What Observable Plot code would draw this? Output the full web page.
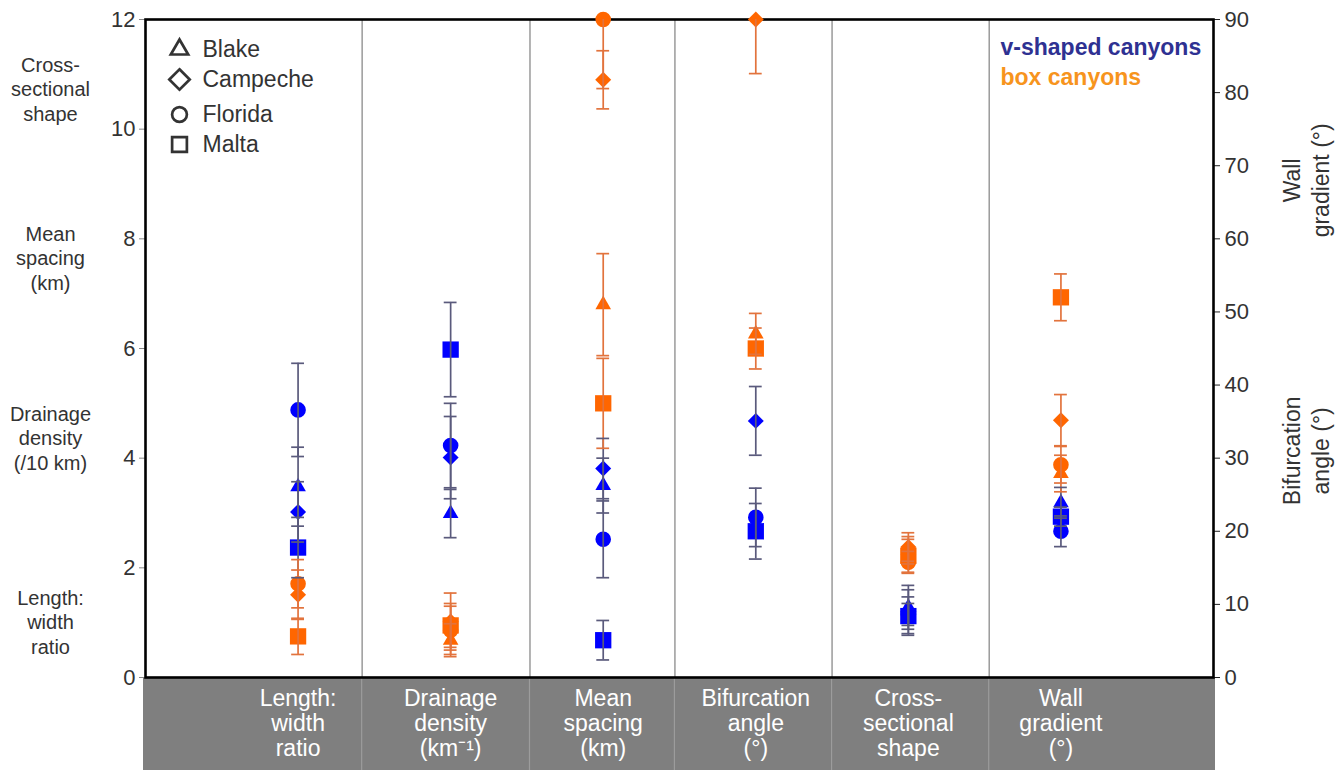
<!DOCTYPE html>
<html>
<head>
<meta charset="utf-8">
<script src="https://cdn.jsdelivr.net/npm/d3@7"></script>
<script src="https://cdn.jsdelivr.net/npm/@observablehq/plot@0.6"></script>
<style>
  body { margin: 0; background: #fff; }
  #chart { width: 1340px; height: 770px; }
</style>
</head>
<body>
<div id="chart"></div>
<script>
// ---------- data ----------
const categories = ["Length:\nwidth\nratio", "Drainage\ndensity\n(km⁻¹)", "Mean\nspacing\n(km)", "Bifurcation\nangle\n(°)", "Cross-\nsectional\nshape", "Wall\ngradient\n(°)"];
const degreeColumn = [false, false, false, true, false, true]; // plotted against the right (°) axis
const sites = ["Blake", "Campeche", "Florida", "Malta"];
const siteSymbols = ["triangle", "diamond2", "circle", "square"];
const legendSymbols = ["triangle2", "diamond2", "circle", "square2"];
const leftAxisTicks = [0, 2, 4, 6, 8, 10, 12];
const rightAxisTicks = [0, 10, 20, 30, 40, 50, 60, 70, 80, 90];
const leftAxisTitles = ["Cross-\nsectional\nshape", "Mean\nspacing\n(km)", "Drainage\ndensity\n(/10 km)", "Length:\nwidth\nratio"];
const rightAxisTitles = ["Wall\ngradient (°)", "Bifurcation\nangle (°)"];
const seriesNames = ["v-shaped canyons", "box canyons"];

// v-shaped canyons: mean and error per category
const vBlake       = [3.48, 2.99, 3.50, null, 1.28, 23.9];
const vBlakeErr    = [0.72, 0.44, 0.50, null, 0.40, 2.1];
const vCampeche    = [3.02, 4.01, 3.81, 35.1, 1.20, null];
const vCampecheErr = [0.55, 0.75, 0.55, 4.7, 0.40, null];
const vFlorida     = [4.88, 4.23, 2.52, 21.9, 1.15, 20.0];
const vFloridaErr  = [0.85, 0.77, 0.70, 4.0, 0.20, 2.1];
const vMalta       = [2.37, 5.98, 0.68, 20.0, 1.12, 22.0];
const vMaltaErr    = [0.55, 0.86, 0.36, 3.8, 0.35, 1.3];

// box canyons
const bBlake       = [null, 0.68, 6.80, 47.0, 2.32, 27.9];
const bBlakeErr    = [null, 0.30, 0.93, 2.8, 0.25, 2.5];
const bCampeche    = [1.51, 1.02, 10.90, 90.0, 2.38, 35.2];
const bCampecheErr = [0.45, 0.52, 0.53, 7.4, 0.26, 3.5];
const bFlorida     = [1.71, 0.86, 12.00, null, 2.10, 29.1];
const bFloridaErr  = [0.44, 0.44, 1.26, null, 0.20, 2.5];
const bMalta       = [0.75, 0.95, 5.00, 45.0, 2.22, 52.0];
const bMaltaErr    = [0.33, 0.40, 0.82, 2.8, 0.30, 3.2];

// ---------- build table ----------
const K = 12 / 90; // degrees -> left axis units
const markerColor = {v: "#0000ff", box: "#ff6600"};
const barColor = {v: "#5a5a7c", box: "#e2733d"};
const rows = [];
function add(type, siteIndex, vals, errs) {
  vals.forEach((v, i) => {
    if (v == null) return;
    const f = degreeColumn[i] ? K : 1;
    rows.push({type, site: sites[siteIndex], symbol: siteSymbols[siteIndex], cat: i + 1,
               y: v * f, lo: (v - errs[i]) * f, hi: (v + errs[i]) * f});
  });
}
add("v", 0, vBlake, vBlakeErr);
add("v", 1, vCampeche, vCampecheErr);
add("v", 2, vFlorida, vFloridaErr);
add("v", 3, vMalta, vMaltaErr);
add("box", 0, bBlake, bBlakeErr);
add("box", 1, bCampeche, bCampecheErr);
add("box", 2, bFlorida, bFloridaErr);
add("box", 3, bMalta, bMaltaErr);

const columnBoundaries = [1.42, 2.52, 3.47, 4.5, 5.53];
const symbolRadius = {triangle: 5.8, diamond2: 7.2, circle: 7.8, square: 9.2};
const legendRadius = {triangle2: 8.3, diamond2: 9.2, circle: 7.4, square2: 9.4};
const capHalf = 0.042;
const font = "'Liberation Sans', Arial, Helvetica, sans-serif";

const dotMarks = [];
for (const type of ["v", "box"]) {
  for (const s of siteSymbols) {
    dotMarks.push(Plot.dot(rows.filter(d => d.type === type && d.symbol === s), {
      x: "cat", y: "y", symbol: () => s, r: symbolRadius[s], fill: markerColor[type], stroke: "none"
    }));
  }
}

const legendDy = [30, 60, 95, 125];
const legendMarks = [];
sites.forEach((name, i) => {
  legendMarks.push(Plot.dot([name], {frameAnchor: "top-left", dx: 34, dy: legendDy[i],
    symbol: () => legendSymbols[i], r: legendRadius[legendSymbols[i]], fill: "none", stroke: "#333", strokeWidth: 2.7}));
  legendMarks.push(Plot.text([name], {text: d => d, frameAnchor: "top-left", dx: 57, dy: legendDy[i],
    textAnchor: "start", lineAnchor: "middle", fontSize: 23, fill: "#333"}));
});

const chart = Plot.plot({
  width: 1340, height: 770,
  marginLeft: 145, marginRight: 127, marginTop: 19, marginBottom: 93,
  style: {fontFamily: font, background: "transparent", overflow: "visible"},
  x: {domain: [0, 7], axis: null},
  y: {domain: [0, 12], axis: null},
  marks: [
    Plot.ruleX(columnBoundaries, {stroke: "#9a9a9a", strokeWidth: 1.5}),
    Plot.axisY(leftAxisTicks, {anchor: "left", tickSize: 6, tickPadding: 4, tickFormat: d => String(d), fontSize: 22, stroke: "#888", fill: "#333", label: null}),
    Plot.axisY(rightAxisTicks.map(d => d * K), {anchor: "right", tickSize: 6, tickPadding: 5, tickFormat: d => String(Math.round(d / K)), fontSize: 22, stroke: "#222", fill: "#333", label: null}),
    Plot.frame({stroke: "#000", strokeWidth: 2.6}),
    ...dotMarks,
    Plot.ruleX(rows, {x: "cat", y1: "lo", y2: "hi", stroke: d => barColor[d.type], strokeWidth: 1.7, clip: true}),
    Plot.ruleY(rows, {x1: d => d.cat - capHalf, x2: d => d.cat + capHalf, y: "lo", stroke: d => barColor[d.type], strokeWidth: 1.7, clip: true}),
    Plot.ruleY(rows, {x1: d => d.cat - capHalf, x2: d => d.cat + capHalf, y: "hi", stroke: d => barColor[d.type], strokeWidth: 1.7, clip: true}),
    ...legendMarks,
    Plot.text([seriesNames[0]], {text: d => d, frameAnchor: "top-left", dx: 855, dy: 28, textAnchor: "start", lineAnchor: "middle", fontSize: 23, fontWeight: "bold", fill: "#2e3192"}),
    Plot.text([seriesNames[1]], {text: d => d, frameAnchor: "top-left", dx: 855, dy: 58, textAnchor: "start", lineAnchor: "middle", fontSize: 23, fontWeight: "bold", fill: "#f7941d"}),
    Plot.text(leftAxisTitles, {text: d => d, y: (d, i) => [10.74, 7.66, 4.38, 1.02][i], frameAnchor: "left", dx: -95, textAnchor: "middle", lineAnchor: "middle", fontSize: 20, lineHeight: 1.22, fill: "#333"}),
    Plot.text(rightAxisTitles, {text: d => d, y: (d, i) => [68 * K, 31 * K][i], frameAnchor: "right", dx: 92, rotate: -90, textAnchor: "middle", lineAnchor: "middle", fontSize: 23, lineHeight: 1.25, fill: "#333"}),
    Plot.text(categories, {text: d => d, x: (d, i) => i + 1, frameAnchor: "bottom", dy: 11, lineAnchor: "top", textAnchor: "middle", fontSize: 23, lineHeight: 1.09, fill: "#fff"})
  ]
});

// grey category band below the frame
const xs = chart.scale("x"), ys = chart.scale("y");
const svg = d3.select(chart);
const bandTop = ys.range[0];
const band = svg.insert("g", ":first-child");
band.append("rect").attr("x", xs.range[0] - 2).attr("y", bandTop).attr("width", xs.range[1] - xs.range[0] + 4)
  .attr("height", 770 - bandTop).attr("fill", "#7f7f7f");
columnBoundaries.forEach(b => {
  band.append("line").attr("x1", xs.apply(b)).attr("x2", xs.apply(b)).attr("y1", bandTop).attr("y2", 770)
    .attr("stroke", "#9c9c9c").attr("stroke-width", 1.2);
});
document.getElementById("chart").appendChild(chart);
</script>
</body>
</html>
